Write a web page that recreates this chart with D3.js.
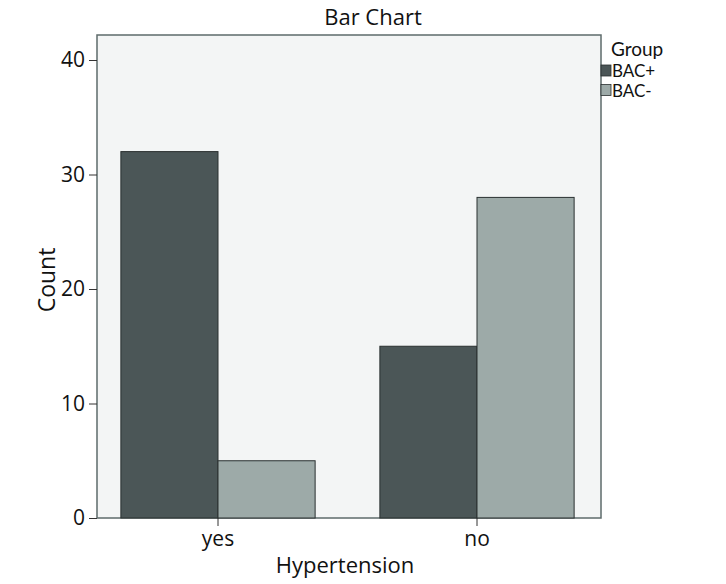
<!DOCTYPE html>
<html><head><meta charset="utf-8">
<script src="https://cdn.jsdelivr.net/npm/d3@7"></script>
<style>body{margin:0;background:#fff;} svg text{font-family:"Open Sans",sans-serif;fill:#111;} svg text.lg{font-family:Lato,"Open Sans",sans-serif;}</style>
</head><body>
<svg id="c" width="726" height="584"></svg>
<script>
const categories = ["yes", "no"];
const groups = ["BAC+", "BAC-"];
const bacPlus = [32, 15];
const bacMinus = [5, 28];
const yTicks = [0, 10, 20, 30, 40];
const colors = ["#4b5657", "#9daaa8"];

const svg = d3.select("#c");
const frame = {l: 97, r: 601, t: 35, b: 518};
const y = d3.scaleLinear().domain([0, 40]).range([518, 60]);
const x = d3.scaleBand().domain(categories).range([88.5, 606.5]).paddingInner(0.25).paddingOuter(0.125);
const xs = d3.scaleBand().domain(groups).range([0, x.bandwidth()]);

svg.append("rect").attr("x", frame.l).attr("y", frame.t).attr("width", frame.r - frame.l).attr("height", frame.b - frame.t)
  .attr("fill", "#f3f5f5").attr("stroke", "#5e6b6b").attr("stroke-width", 1.5);

const series = [bacPlus, bacMinus];
const data = [];
categories.forEach((c, i) => groups.forEach((g, j) => data.push({c, g, v: series[j][i], j})));
svg.append("g").selectAll("rect").data(data).join("rect")
  .attr("x", d => x(d.c) + xs(d.g)).attr("width", xs.bandwidth())
  .attr("y", d => y(d.v)).attr("height", d => y(0) - y(d.v))
  .attr("fill", d => colors[d.j]).attr("stroke", "#2a3030").attr("stroke-width", 1);

const ya = svg.append("g").attr("transform", `translate(${frame.l},0)`)
  .call(d3.axisLeft(y).tickValues(yTicks).tickSize(8).tickPadding(4));
ya.select(".domain").remove();
ya.selectAll("line").attr("stroke", "#333");
ya.selectAll("text").style("font-size", "21px");

const xa = svg.append("g").attr("transform", `translate(0,${frame.b})`)
  .call(d3.axisBottom(x).tickSize(8).tickPadding(5));
xa.select(".domain").remove();
xa.selectAll("line").attr("stroke", "#333");
xa.selectAll("text").style("font-size", "21px");

svg.append("text").attr("x", 373).attr("y", 25).attr("text-anchor", "middle").style("font-size", "22px").text("Bar Chart");
svg.append("text").attr("x", 345).attr("y", 573).attr("text-anchor", "middle").style("font-size", "22px").text("Hypertension");
svg.append("text").attr("transform", "translate(55,280) rotate(-90)").attr("text-anchor", "middle").style("font-size", "23px").text("Count");

svg.append("text").attr("class", "lg").attr("x", 611).attr("y", 56).style("font-size", "19px").text("Group");
const lg = svg.append("g").selectAll("g").data(groups).join("g")
  .attr("transform", (d, i) => `translate(601,${65 + i * 19.5})`);
lg.append("rect").attr("width", 10).attr("height", 11).attr("fill", (d, i) => colors[i]).attr("stroke", "#2a3030").attr("stroke-width", 0.8);
lg.append("text").attr("class", "lg").attr("x", 11).attr("y", 12).style("font-size", "17px").text(d => d);
</script>
</body></html>
